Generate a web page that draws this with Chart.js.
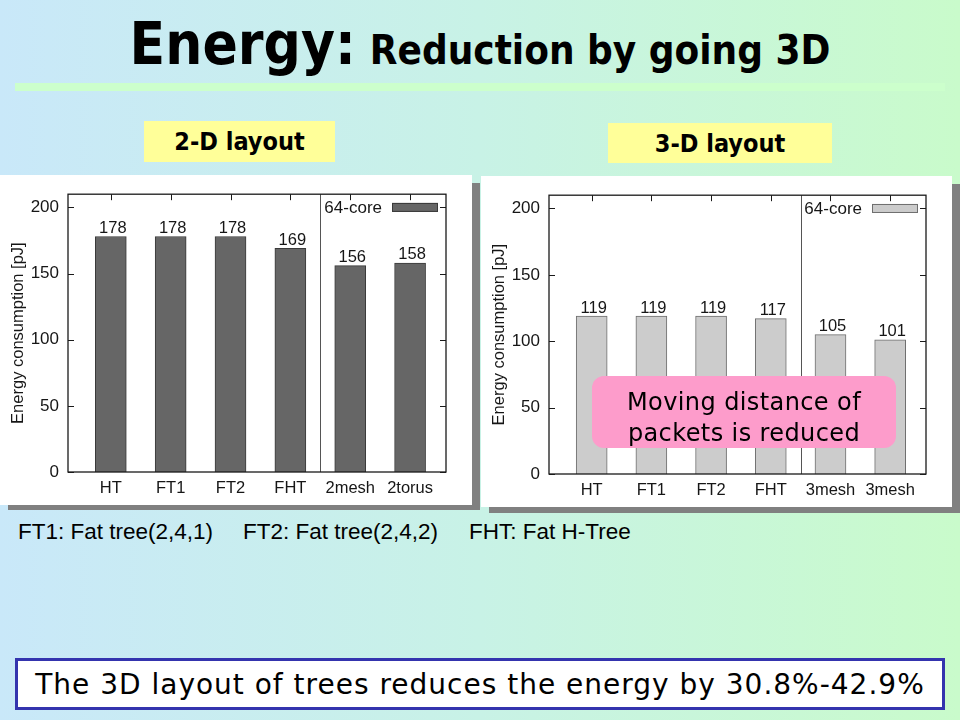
<!DOCTYPE html>
<html>
<head>
<meta charset="utf-8">
<script src="https://cdn.jsdelivr.net/npm/chart.js@4.4.1/dist/chart.umd.min.js"></script>
<style>
  html, body { margin:0; padding:0; }
  body { width:960px; height:720px; overflow:hidden; position:relative;
    background: linear-gradient(to right, #c9e8f9 0%, #c8f2e6 50%, #c9fbcb 100%);
    font-family: "DejaVu Sans Condensed", "DejaVu Sans", sans-serif; }
  .abs { position:absolute; }
  #title { left:0; width:960px; top:10px; text-align:center; font-weight:bold; color:#000; white-space:nowrap; }
  #title .big { font-size:58px; }
  #title .small { font-size:40px; margin-left:14px; }
  #rule { left:15px; top:83px; width:930px; height:8px; background:#ccffcc; }
  .ybox { background:#ffff99; font-weight:bold; font-size:25px; display:flex; align-items:center; justify-content:center; }
  .panel { background:#fff; }
  .shadow { background:#808080; }
  .note { top:519px; font-family:"Liberation Sans", Arial, sans-serif; font-size:22.5px; color:#000; white-space:nowrap; }
  #pink { left:592px; top:376px; width:304px; height:72px; background:#fd9ccb; border-radius:12px;
    font-family:"DejaVu Sans", sans-serif; font-size:24px; letter-spacing:0.4px; line-height:31px; text-align:center;
    display:flex; flex-direction:column; justify-content:center; padding-top:11px; box-sizing:border-box; }
  #concl { left:15px; top:658px; width:924px; height:46px; background:#fff; border:3px solid #3434ae;
    font-family:"DejaVu Sans", sans-serif; font-size:28px; letter-spacing:1px;
    display:flex; align-items:center; justify-content:center; white-space:nowrap; }
</style>
</head>
<body>
<div id="title" class="abs"><span class="big">Energy:</span><span class="small">Reduction by going 3D</span></div>
<div id="rule" class="abs"></div>
<div class="abs ybox" style="left:144px;top:121px;width:191px;height:41px;">2-D layout</div>
<div class="abs ybox" style="left:608px;top:123px;width:224px;height:40px;">3-D layout</div>

<div class="abs shadow" style="left:8px;top:183px;width:472px;height:327px;"></div>
<div class="abs panel" style="left:0px;top:175px;width:472px;height:330px;"><canvas id="c2d" width="472" height="330"></canvas></div>

<div class="abs shadow" style="left:489px;top:184px;width:471px;height:329px;"></div>
<div class="abs panel" style="left:481px;top:176px;width:471px;height:331px;"><canvas id="c3d" width="471" height="331"></canvas></div>

<div id="pink" class="abs"><div>Moving distance of</div><div>packets is reduced</div></div>

<div class="abs note" style="left:18px;">FT1: Fat tree(2,4,1)</div>
<div class="abs note" style="left:243px;">FT2: Fat tree(2,4,2)</div>
<div class="abs note" style="left:469px;">FHT: Fat H-Tree</div>

<div id="concl" class="abs">The 3D layout of trees reduces the energy by 30.8%-42.9%</div>

<script>
// ---- data ----
const categories2D = ['HT', 'FT1', 'FT2', 'FHT', '2mesh', '2torus'];
const values2D = [178, 178, 178, 169, 156, 158];
const categories3D = ['HT', 'FT1', 'FT2', 'FHT', '3mesh', '3mesh'];
const values3D = [119, 119, 119, 117, 105, 101];
const yTickValues = [0, 50, 100, 150, 200];
const seriesLabel = '64-core';
const yTitle = 'Energy consumption [pJ]';
const separatorAfter = 3.5;

const FONT = '"Liberation Sans", Arial, Helvetica, sans-serif';
const TXT = '#161616';

const gnuplotPlugin = {
  id: 'gnuplotFrame',
  afterDatasetsDraw(chart, args, opts) {
    const { ctx, chartArea: a, scales: { x, y } } = chart;
    const line = (x1, y1, x2, y2) => { ctx.beginPath(); ctx.moveTo(x1, y1); ctx.lineTo(x2, y2); ctx.stroke(); };
    ctx.save();
    // separator
    ctx.strokeStyle = '#555'; ctx.lineWidth = 1;
    const sx = Math.round(x.getPixelForValue(opts.separator)) + 0.5;
    line(sx, a.top, sx, a.bottom);
    // frame
    ctx.strokeStyle = '#1a1a1a'; ctx.lineWidth = 1.3;
    ctx.strokeRect(a.left, a.top, a.right - a.left, a.bottom - a.top);
    // inward ticks
    ctx.lineWidth = 1;
    y.ticks.forEach(t => {
      const py = Math.round(y.getPixelForValue(t.value)) + 0.5;
      line(a.left, py, a.left + 6, py);
      line(a.right - 6, py, a.right, py);
    });
    x.ticks.forEach(t => {
      const px = Math.round(x.getPixelForValue(t.value)) + 0.5;
      line(px, a.top, px, a.top + 6);
    });
    // value labels
    const ds = chart.data.datasets[0];
    const meta = chart.getDatasetMeta(0);
    ctx.fillStyle = TXT;
    ctx.font = '16.5px ' + FONT;
    ctx.textAlign = 'center';
    ctx.textBaseline = 'alphabetic';
    meta.data.forEach((bar, i) => {
      ctx.fillText(String(ds.data[i].y), bar.x + 2, bar.y - 3.5);
    });
    // legend (key)
    const ky = y.getPixelForValue(200);
    const bw = 46, bh = 9;
    const bx = a.right - 8 - bw;
    ctx.fillStyle = ds.backgroundColor;
    ctx.fillRect(bx, ky - bh / 2, bw, bh);
    ctx.strokeStyle = ds.borderColor;
    ctx.strokeRect(bx + 0.5, ky - bh / 2 + 0.5, bw - 1, bh - 1);
    ctx.fillStyle = TXT;
    ctx.textAlign = 'right';
    ctx.textBaseline = 'middle';
    ctx.font = '17px ' + FONT;
    ctx.fillText(ds.label, bx - 10, ky + 1);
    ctx.restore();
  }
};

function makeChart(id, categories, values, fill, border, topPad) {
  return new Chart(document.getElementById(id), {
    type: 'bar',
    data: {
      datasets: [{
        label: seriesLabel,
        data: values.map((v, i) => ({ x: i, y: v })),
        backgroundColor: fill,
        borderColor: border,
        borderWidth: 1,
        barThickness: 31
      }]
    },
    options: {
      responsive: false,
      animation: false,
      layout: { padding: { top: topPad, right: 26, left: 0, bottom: 0 } },
      plugins: {
        legend: { display: false },
        tooltip: { enabled: false },
        gnuplotFrame: { separator: separatorAfter }
      },
      scales: {
        x: {
          type: 'linear', min: -0.715, max: 5.6, offset: false,
          grid: { display: false, drawTicks: false, offset: false },
          border: { display: false },
          afterBuildTicks: s => { s.ticks = categories.map((c, i) => ({ value: i })); },
          ticks: { callback: v => categories[v], font: { family: FONT, size: 16.5 }, color: TXT, padding: 7, autoSkip: false, maxRotation: 0 },
          afterFit: s => { s.height = 33; }
        },
        y: {
          min: 0, max: 210,
          grid: { display: false, drawTicks: false },
          border: { display: false },
          afterBuildTicks: s => { s.ticks = yTickValues.map(v => ({ value: v })); },
          ticks: { font: { family: FONT, size: 17 }, color: TXT, padding: 9 },
          title: { display: true, text: yTitle, font: { family: FONT, size: 16.5 }, color: TXT, padding: { top: 9, bottom: 0 } },
          afterFit: s => { s.width = 68; }
        }
      }
    },
    plugins: [gnuplotPlugin]
  });
}

makeChart('c2d', categories2D, values2D, '#666666', '#3a3a3a', 19);
makeChart('c3d', categories3D, values3D, '#cccccc', '#6e6e6e', 19);
</script>
</body>
</html>
